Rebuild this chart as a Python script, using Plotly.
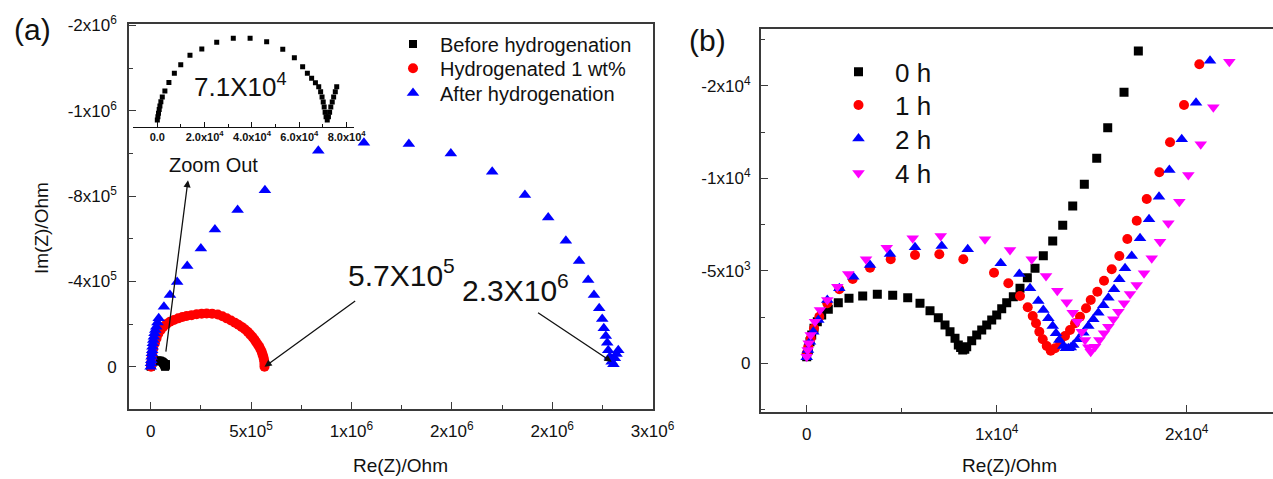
import plotly.graph_objects as go

# ---------------- Panel (a) data : Re(Z) [Ohm], Im(Z) [Ohm] ----------------
before_re = [0, 250, 500, 800, 1100, 1500, 2100, 3200, 4900, 7200, 9900, 13800, 18800,
             25100, 32100, 39200, 46200, 53000, 57900, 61400, 63400, 65200, 66800, 68200,
             69000, 69600, 70100, 70500, 70900, 71300, 71800, 72300, 72800, 73300, 73900,
             74500, 75200, 75800]
before_im = [-700, -1900, -3100, -4400, -5700, -7200, -8900, -11000, -14000, -17300, -20300,
             -23700, -25900, -28300, -29700, -29700, -28500, -25800, -22800, -19600, -17300,
             -15500, -13900, -12500, -10700, -8900, -7100, -5300, -3500, -1900, -700, -1900,
             -3500, -5300, -7100, -8900, -10700, -12500]

hyd1_re = [2000, 3000, 5000, 8000, 13000, 21000, 29000, 38000, 50000, 63000, 79000, 96000,
           116000, 137000, 158000, 179000, 204000, 229000, 254000, 279000, 306000, 334000,
           357000, 379000, 400000, 420000, 437000, 453000, 469000, 483000, 495000, 506000,
           516000, 524000, 533000, 541000, 547000, 553000, 557000, 561000, 564000, 566000,
           567000, 567000]
hyd1_im = [0, -20000, -42000, -63000, -86000, -110000, -133000, -155000, -172000, -188000,
           -200000, -211000, -219000, -227000, -233000, -238000, -242000, -246000, -249000,
           -250000, -249000, -245000, -237000, -227000, -217000, -206000, -197000, -187000,
           -176000, -164000, -152000, -141000, -129000, -117000, -105000, -94000, -82000,
           -70000, -58000, -47000, -35000, -23000, -11000, 0]

after_re = [0, 1500, 3000, 4500, 6000, 7500, 9000, 11000, 13000, 16000, 19000, 23000, 28000,
            34000, 40000, 66000, 96000, 132000, 182000, 250000, 320000, 433000, 569000,
            835000, 1062000, 1286000, 1495000, 1701000, 1864000, 1980000, 2068000, 2134000,
            2179000, 2208000, 2234000, 2249000, 2257000, 2267000, 2274000, 2279000, 2287000,
            2296000, 2305000, 2312000, 2320000, 2329000]
after_im = [0, -16000, -31000, -47000, -63000, -78000, -94000, -110000, -125000, -141000,
            -157000, -172000, -188000, -207000, -227000, -281000, -336000, -398000, -472000,
            -555000, -644000, -735000, -828000, -1013000, -1050000, -1044000, -1000000,
            -914000, -805000, -700000, -591000, -496000, -407000, -336000, -274000, -224000,
            -180000, -144000, -113000, -78000, -47000, -23000, -12000, -40000, -60000, -78000]

a_names = ["Before hydrogenation", "Hydrogenated 1 wt%", "After hydrogenation"]

a_xticks = [0, 5e5, 1e6, 1.5e6, 2e6, 2.5e6]
a_xticktext = ["0", "5x10<sup>5</sup>", "1x10<sup>6</sup>", "2x10<sup>6</sup>",
               "2x10<sup>6</sup>", "3x10<sup>6</sup>"]
a_yticks = [0, -4e5, -8e5, -1.2e6, -1.6e6]
a_yticktext = ["0", "-4x10<sup>5</sup>", "-8x10<sup>5</sup>", "-1x10<sup>6</sup>",
               "-2x10<sup>6</sup>"]
inset_xticks = [0, 2e4, 4e4, 6e4, 8e4]
inset_xticktext = ["<b>0.0</b>", "<b>2.0x10<sup>4</sup></b>", "<b>4.0x10<sup>4</sup></b>",
                   "<b>6.0x10<sup>4</sup></b>", "<b>8.0x10<sup>4</sup></b>"]

# ---------------- Panel (b) data ----------------
h0_re = [0, 84, 174, 263, 384, 558, 789, 1137, 1663, 2226, 2947, 3716, 4526, 5316, 5963, 6489,
         6926, 7279, 7542, 7805, 7979, 8100, 8211, 8320, 8421, 8684, 8947, 9211, 9474, 9737,
         10000, 10263, 10526, 10874, 11226, 11611, 12016, 12453, 12947, 13474, 14000, 14611,
         15263, 15842, 16700, 17453]
h0_im = [-357, -719, -1168, -1530, -1892, -2249, -2611, -2919, -3276, -3514, -3638, -3730,
         -3676, -3546, -3243, -2843, -2465, -2070, -1708, -1351, -989, -850, -719, -760, -897,
         -1222, -1530, -1800, -2070, -2341, -2611, -2951, -3276, -3600, -4054, -4627, -5135,
         -5816, -6611, -7459, -8503, -9676, -11081, -12735, -14649, -16881]

h1_re = [0, 84, 211, 384, 663, 1084, 1716, 2421, 3332, 4421, 5700, 6979, 8242, 9858, 10611,
         11226, 11632, 11895, 12068, 12242, 12421, 12632, 12842, 13068, 13332, 13595, 13858,
         14121, 14384, 14700, 14947, 15295, 15647, 16053, 16453, 16874, 17368, 17895, 18558,
         19121, 19858, 20663]
h1_im = [-540, -897, -1351, -1892, -2519, -3243, -4000, -4557, -5168, -5622, -5854, -5892,
         -5622, -4897, -4324, -3638, -3027, -2557, -2162, -1708, -1297, -935, -681, -811,
         -1168, -1476, -1800, -2162, -2519, -2973, -3422, -3870, -4465, -5081, -5800, -6719,
         -7708, -8881, -10324, -11946, -13962, -16162]

h2_re = [0, 68, 174, 347, 611, 1084, 1716, 2453, 3332, 4384, 5700, 7105, 8474, 10211, 11190,
         11753, 12189, 12453, 12716, 12947, 13121, 13295, 13505, 13640, 13768, 13900, 14032,
         14295, 14558, 14821, 15084, 15347, 15611, 15874, 16174, 16453, 16753, 17105, 17542,
         18016, 18542, 19084, 19737, 20489, 21226]
h2_im = [-324, -719, -1168, -1708, -2341, -3422, -4054, -4681, -5314, -5908, -6270, -6341,
         -6162, -5405, -4827, -4054, -3368, -2881, -2432, -2016, -1622, -1259, -935, -820,
         -811, -850, -989, -1297, -1654, -2016, -2378, -2735, -3135, -3546, -4000, -4541,
         -5135, -5800, -6757, -7784, -9005, -10449, -12108, -14086, -16357]

h4_re = [0, 53, 105, 211, 437, 700, 1084, 1611, 2189, 3121, 4211, 5579, 7053, 9384, 10700,
         11842, 12595, 13189, 13684, 14000, 14242, 14474, 14647, 14821, 14947, 15174, 15400,
         15647, 15874, 16137, 16400, 16700, 17016, 17368, 17753, 18158, 18595, 19032, 19611,
         20084, 20737, 21400, 22242]
h4_im = [-357, -719, -1081, -1530, -2249, -2881, -3422, -4141, -4827, -5622, -6249, -6757,
         -6881, -6703, -6124, -5622, -4719, -3924, -3297, -2735, -2249, -1708, -1259, -865,
         -627, -897, -1259, -1622, -1978, -2378, -2789, -3243, -3746, -4232, -4865, -5676,
         -6573, -7568, -8735, -10178, -11838, -13838, -16303]

b_names = ["0 h", "1 h", "2 h", "4 h"]
b_xticks = [0, 1e4, 2e4]
b_xticktext = ["0", "1x10<sup>4</sup>", "2x10<sup>4</sup>"]
b_yticks = [0, -5e3, -1e4, -1.5e4]
b_yticktext = ["0", "-5x10<sup>3</sup>", "-1x10<sup>4</sup>", "-2x10<sup>4</sup>"]

FONT = "Arial, 'Liberation Sans', sans-serif"
LINE = "#3a3a3a"
W, H = 1273, 479

fig = go.Figure()

# panel (a) traces -- each legend entry in its own legend box for exact row spacing
a_styles = [("square", 8, "black"), ("circle", 10, "#ff0000"), ("triangle-up", 11, "#0000ff")]
a_data = [(before_re, before_im), (hyd1_re, hyd1_im), (after_re, after_im)]
a_legends = ["legend", "legend3", "legend4"]
for name, (xs, ys), (sym, sz, col), lg in zip(a_names, a_data, a_styles, a_legends):
    fig.add_trace(go.Scatter(x=xs, y=ys, mode="markers", name=name,
                             marker=dict(symbol=sym, size=sz, color=col),
                             xaxis="x", yaxis="y", legend=lg))
# inset (same "before" data, zoomed)
fig.add_trace(go.Scatter(x=before_re, y=before_im, mode="markers", showlegend=False,
                         marker=dict(symbol="square", size=5, color="black"),
                         xaxis="x3", yaxis="y3"))

# panel (b) traces
b_series = [(h0_re, h0_im, "square", 9, "black"),
            (h1_re, h1_im, "circle", 10, "#ff0000"),
            (h2_re, h2_im, "triangle-up", 11, "#0000ff"),
            (h4_re, h4_im, "triangle-down", 11, "#ff00ff")]
b_legends = ["legend2", "legend5", "legend6", "legend7"]
for name, (xs, ys, sym, sz, col), lg in zip(b_names, b_series, b_legends):
    fig.add_trace(go.Scatter(x=xs, y=ys, mode="markers", name=name,
                             marker=dict(symbol=sym, size=sz, color=col),
                             xaxis="x2", yaxis="y2", legend=lg))

tickfont = dict(family=FONT, size=17, color="#111")
common = dict(showline=True, linecolor=LINE, linewidth=1.6, ticks="inside", ticklen=7,
              tickwidth=1.4, tickcolor=LINE, showgrid=False, zeroline=False,
              tickfont=tickfont, tickmode="array", automargin=False)


def leg(left_px, top_px, size, itemwidth):
    return dict(x=left_px / W, y=1 - top_px / H, xanchor="left", yanchor="top",
                bgcolor="rgba(0,0,0,0)", itemwidth=itemwidth, borderwidth=0,
                font=dict(family=FONT, size=size, color="#111"))


# legend rows: panel (a) centres 45, 69, 94 px ; panel (b) 72, 105, 139, 175 px
fig.update_layout(
    width=W, height=H, autosize=False, margin=dict(l=0, r=0, t=0, b=0, autoexpand=False),
    paper_bgcolor="white", plot_bgcolor="rgba(0,0,0,0)",
    font=dict(family=FONT, color="#111"),
    xaxis=dict(domain=[129 / W, 652.7 / W], range=[-1.08e5, 2.5005e6], anchor="y",
               mirror=True, tickvals=a_xticks, ticktext=a_xticktext,
               minor=dict(ticks="inside", ticklen=4, tickcolor=LINE, dtick=2.5e5, tick0=0),
               ticklabelstandoff=6, **common),
    yaxis=dict(domain=[1 - 409 / H, 1 - 24 / H], range=[1.98e5, -1.607e6], anchor="x",
               mirror=True, tickvals=a_yticks, ticktext=a_yticktext,
               minor=dict(ticks="inside", ticklen=4, tickcolor=LINE, dtick=2e5, tick0=0),
               ticklabelstandoff=7, **common),
    xaxis2=dict(domain=[760.7 / W, 1.0], range=[-2421, 24540], anchor="y2",
                mirror=True, tickvals=b_xticks, ticktext=b_xticktext,
                minor=dict(ticks="inside", ticklen=4, tickcolor=LINE, dtick=5e3, tick0=0),
                ticklabelstandoff=6, **common),
    yaxis2=dict(domain=[1 - 411.7 / H, 1 - 29.3 / H], range=[2616, -18054], anchor="x2",
                mirror=False, tickvals=b_yticks, ticktext=b_yticktext,
                minor=dict(ticks="inside", ticklen=4, tickcolor=LINE, dtick=2500, tick0=0),
                ticklabelstandoff=5, **common),
    xaxis3=dict(domain=[132.7 / W, 354 / W], range=[-1.04e4, 8.31e4], anchor="y3",
                showline=True, linecolor="#111", linewidth=1.4, ticks="inside", ticklen=5,
                tickwidth=1.2, tickcolor="#111", showgrid=False, zeroline=False,
                automargin=False,
                tickmode="array", tickvals=inset_xticks, ticktext=inset_xticktext,
                tickfont=dict(family=FONT, size=11, color="#111"),
                minor=dict(ticks="inside", ticklen=3, tickcolor="#111", dtick=1e4, tick0=0)),
    yaxis3=dict(domain=[1 - 126.7 / H, 1 - 30 / H], range=[1667, -32624], anchor="x3",
                visible=False, automargin=False),
    legend=leg(386, 45 - 20.5, 20, 44),
    legend3=leg(386, 69.3 - 20.5, 20, 44),
    legend4=leg(386, 94 - 20.5, 20, 44),
    legend2=leg(822, 71.7 - 23.4, 26, 63),
    legend5=leg(822, 105 - 23.4, 26, 63),
    legend6=leg(822, 139 - 24, 26, 63),
    legend7=leg(822, 175 - 25.5, 26, 63),
)

anns = [
    # panel labels
    dict(text="(a)", x=32 / W, y=1 - 30 / H, font=dict(size=30)),
    dict(text="(b)", x=707 / W, y=1 - 40 / H, font=dict(size=30)),
    # axis titles
    dict(text="Im(Z)/Ohm", x=42 / W, y=1 - 228 / H, textangle=-90, font=dict(size=19)),
    dict(text="Re(Z)/Ohm", x=400 / W, y=1 - 465 / H, font=dict(size=19)),
    dict(text="Re(Z)/Ohm", x=1009 / W, y=1 - 465 / H, font=dict(size=19)),
]
for a in anns:
    a.update(xref="paper", yref="paper", showarrow=False, xanchor="center", yanchor="middle")
    a["font"] = dict(family=FONT, color="#111", **a["font"])
    fig.add_annotation(**a)

# text labels in panel (a)
fig.add_annotation(text="Zoom Out", x=315000, y=-945000, xref="x", yref="y", showarrow=False,
                   font=dict(family=FONT, size=20, color="#111"))
fig.add_annotation(text="5.7X10<sup>5</sup>", x=1251000, y=-440000, xref="x", yref="y",
                   showarrow=False, font=dict(family=FONT, size=30, color="#111"))
fig.add_annotation(text="2.3X10<sup>6</sup>", x=1817000, y=-370000, xref="x", yref="y",
                   showarrow=False, font=dict(family=FONT, size=30, color="#111"))
fig.add_annotation(text="7.1X10<sup>4</sup>", x=35000, y=-13000, xref="x3", yref="y3",
                   showarrow=False, font=dict(family=FONT, size=26, color="#111"))

# arrows
arrow = dict(showarrow=True, text="", arrowhead=2, arrowsize=1.1, arrowwidth=1.3,
             arrowcolor="#111", xref="x", yref="y", axref="x", ayref="y")
fig.add_annotation(x=185800, y=-875000, ax=74700, ay=-64000, **arrow)
fig.add_annotation(x=hyd1_re[-1], y=hyd1_im[-1], ax=1026000, ay=-313000, **arrow)
fig.add_annotation(x=after_re[-5], y=after_im[-5], ax=1922000, ay=-258000, **arrow)

fig.write_html("out.html", config={"responsive": False, "displayModeBar": False},
               post_script="document.body.style.margin='0';"
                           "document.body.style.overflow='hidden';")
